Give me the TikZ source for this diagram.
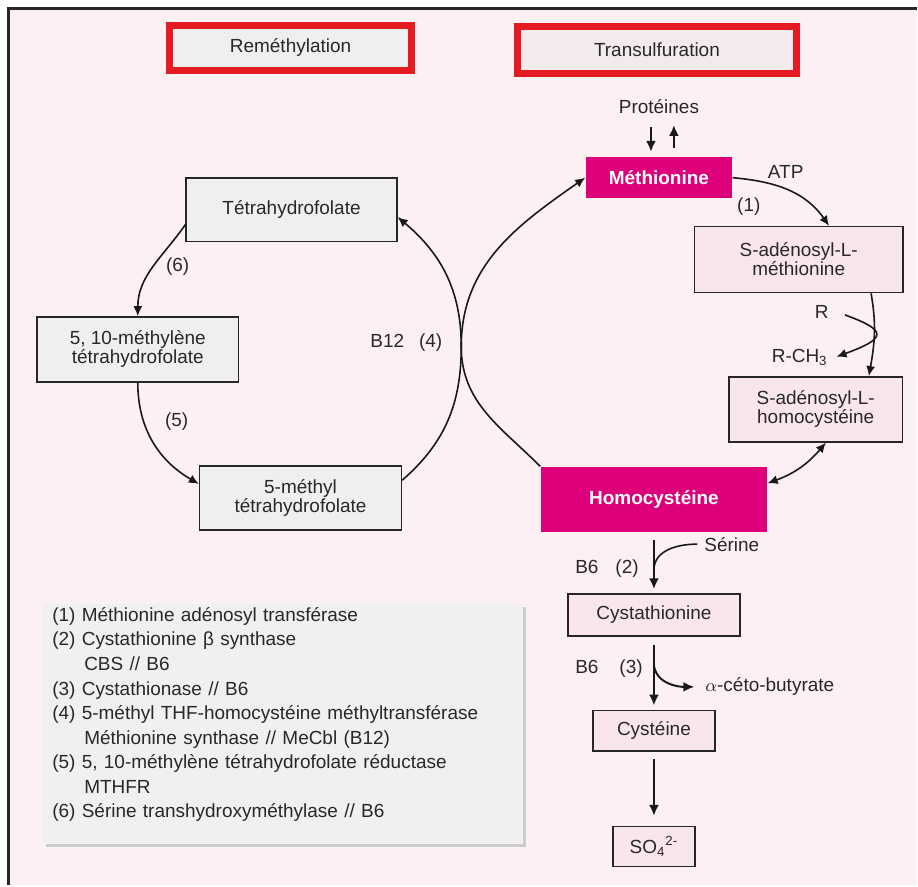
\documentclass[tikz,border=0pt]{standalone}
\usepackage{fontspec}
\setmainfont{Liberation Sans}
\usepackage{tikz}
\usetikzlibrary{arrows.meta,positioning,calc,shadows}
\definecolor{pagePink}{RGB}{253,240,242}
\definecolor{boxGray}{RGB}{239,239,239}
\definecolor{boxPink}{RGB}{249,230,234}
\definecolor{titlePink}{RGB}{243,234,236}
\definecolor{metMagenta}{RGB}{222,0,122}
\definecolor{frameRed}{RGB}{229,27,36}
\definecolor{legendGray}{RGB}{240,240,240}
\definecolor{inkGray}{RGB}{40,40,40}

\begin{document}
\begin{tikzpicture}[x=0.5pt, y=0.5pt, node distance=58pt,
  every node/.style={font=\fontsize{9.5}{9.5}\selectfont, text=inkGray},
  headbox/.style={draw=frameRed, line width=3.5pt, fill=boxGray, minimum width=121pt, minimum height=22.5pt},
  folbox/.style={draw=black!85, line width=0.8pt, fill=boxGray, align=center, inner sep=2pt},
  metbox/.style={draw=black!85, line width=0.8pt, fill=boxPink, align=center, inner sep=2pt},
  keybox/.style={fill=metMagenta, text=white, font=\fontsize{9.5}{9.5}\selectfont\bfseries},
  legbox/.style={fill=legendGray, align=left, font=\fontsize{9.5}{12.3}\selectfont,
    general shadow={fill=black!20, shadow xshift=1.5pt, shadow yshift=-1.5pt}},
  flow/.style={-{Latex[length=5pt,width=4.5pt]}, line width=0.8pt, black!90},
  mainflow/.style={-{Latex[length=5.5pt,width=5pt]}, line width=1.4pt, black!90},
]
\fill[white] (0,0) rectangle (918,-886);
\fill[pagePink] (9,-9) rectangle (918,-886);
\draw[line width=1.5pt, black!85] (9,-886) -- (9,-9) -- (918,-9);
\useasboundingbox (0,0) rectangle (918,-886);

\node[headbox] (remet) at (291,-48) {Reméthylation};
\node[headbox, fill=titlePink, minimum width=140pt, minimum height=23.5pt] (transulf) at (658,-50) {Transulfuration};

\node[folbox, minimum width=105.5pt, minimum height=32pt] (thf) at (292,-210) {Tétrahydrofolate};
\node[folbox, minimum width=101pt, minimum height=32.5pt] (mthf510) at (138,-350) {5, 10-méthylène\\tétrahydrofolate};
\node[folbox, minimum width=101pt, minimum height=32pt] (mthf5) at (301,-499) {5-méthyl\\tétrahydrofolate};

\node (prot) at (660,-107) {Protéines};
\node[keybox, minimum width=73.5pt, minimum height=20.5pt] (met) at (660,-178) {Méthionine};
\node[metbox, minimum width=104.5pt, minimum height=33pt] (sam) at (800,-260) {S-adénosyl-L-\\méthionine};
\node[metbox, minimum width=87pt, minimum height=32.5pt] (sah) at (817,-410) {S-adénosyl-L-\\homocystéine};
\node[keybox, minimum width=113.5pt, minimum height=32.5pt] (hcy) at (655,-500) {Homocystéine};
\node[metbox, minimum width=86pt, minimum height=21pt, below of=hcy] (cysta) {Cystathionine};
\node[metbox, minimum width=61pt, minimum height=20.5pt, below of=cysta] (cys) {Cystéine};
\node[metbox, minimum width=41pt, minimum height=20pt, below of=cys] (sulf) {SO\textsubscript{4}\textsuperscript{2-}};

\node (atp) at (787,-172) {ATP};
\node (e1) at (750,-207) {(1)};
\node (r) at (823,-312) {R};
\node (rch3) at (801,-358) {R-CH\textsubscript{3}};
\node (ser) at (733,-545) {Sérine};
\node (cofa) at (608,-570) {B6\hspace{8.5pt}(2)};
\node (cofb) at (610,-670) {B6\hspace{10.5pt}(3)};
\node (keto) at (771,-688) {$\alpha$-céto-butyrate};
\node (cofc) at (407,-343) {B12\hspace{7.5pt}(4)};
\node (e6) at (178,-267) {(6)};
\node (e5) at (177,-422) {(5)};

\node[legbox, anchor=north west, text width=231pt, inner xsep=4.5pt, inner ysep=1.5pt, text depth=109.8pt] (legend) at (43,-605) {%
(1) Méthionine adénosyl transférase\\
(2) Cystathionine β synthase\\
\hspace*{16pt}CBS // B6\\
(3) Cystathionase // B6\\
(4) 5-méthyl THF-homocystéine méthyltransférase\\
\hspace*{16pt}Méthionine synthase // MeCbl (B12)\\
(5) 5, 10-méthylène tétrahydrofolate réductase\\
\hspace*{16pt}MTHFR\\
(6) Sérine transhydroxyméthylase // B6};

\coordinate (cross) at (462,-347);
\coordinate (serjoin) at ($(hcy.south)!0.62!(cysta.north)$);
\coordinate (ketofork) at ($(cysta.south)!0.4!(cys.north)$);

\draw[flow] (thf.188) to[out=235,in=90] (mthf510.north);
\draw[flow] (mthf510.south) to[out=-90,in=150] (mthf5.172);
\draw[flow] (mthf5.10) to[out=41,in=-90] (cross) to[out=90,in=-40] (thf.-4);
\draw[flow] (hcy.north west) to[out=135,in=-90] (cross) to[out=90,in=-145] (met.west);
\draw[mainflow, shorten <=3pt, shorten >=2.5pt] ([xshift=-4pt]prot.south) -- ([xshift=-4pt]met.north);
\draw[mainflow, shorten <=4.5pt, shorten >=2pt] ([xshift=7.5pt]met.north) -- ([xshift=7.5pt]prot.south);
\draw[flow] (met.east) to[out=-5,in=125] (sam.48);
\draw[flow] (sam.-25) to[out=-80,in=80] (sah.32);
\draw[flow, shorten <=5pt, shorten >=1pt] (r.east) to[out=-20,in=20,looseness=3.1] (rch3.east);
\draw[flow, {Latex[length=5pt,width=4.5pt]}-{Latex[length=5pt,width=4.5pt]}] (sah.-73) to[bend left=15] (hcy.8);
\draw[mainflow, shorten <=4pt, shorten >=2pt] (hcy.south) -- (cysta.north);
\draw[line width=0.8pt, black!90] (ser.west) to[out=180,in=90] (serjoin);
\draw[mainflow, shorten <=4pt, shorten >=2pt] (cysta.south) -- (cys.north);
\draw[flow, line width=1pt, -{Latex[length=5.5pt,width=5pt]}, shorten >=2pt] (ketofork) to[out=-80,in=180] (keto.west);
\draw[mainflow, shorten <=3.5pt, shorten >=5pt] (cys.south) -- (sulf.north);
\end{tikzpicture}
\end{document}
